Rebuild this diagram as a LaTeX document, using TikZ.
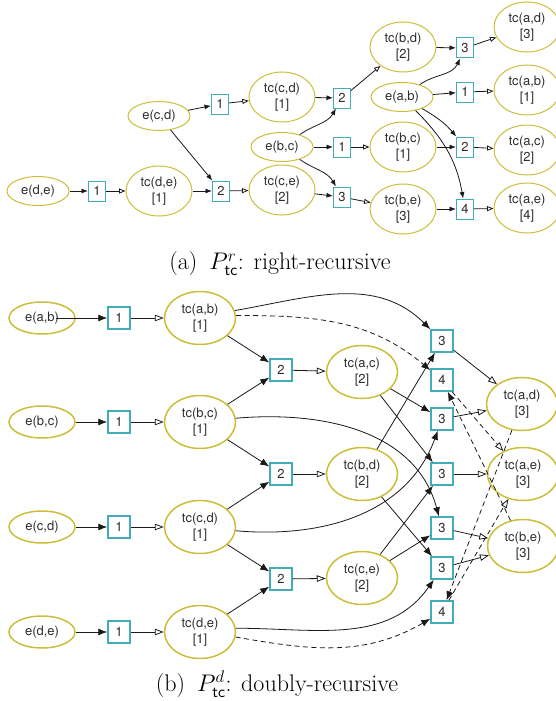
\RequirePackage{fix-cm}
\documentclass[tikz,border=0pt]{standalone}
\usepackage{fontspec}
\newfontfamily\nodefont{TeX Gyre Heros}
\usetikzlibrary{arrows.meta,shapes.geometric}
\definecolor{ellcol}{RGB}{204,190,58}
\definecolor{boxcol}{RGB}{66,172,184}
\definecolor{txtcol}{RGB}{45,45,45}
\definecolor{edgecol}{RGB}{25,25,25}
\newcommand{\nlab}[2]{#1\\{}[#2]}
\tikzset{
  nbase/.style={font=\nodefont\fontsize{13}{15.5}\selectfont, text=txtcol, align=center, inner sep=0pt},
  tEll/.style={nbase, ellipse, draw=ellcol, line width=1pt, minimum width=66pt, minimum height=50pt},
  tEe/.style={nbase, ellipse, draw=ellcol, line width=1pt, minimum width=62pt, minimum height=29pt},
  tBox/.style={nbase, rectangle, draw=boxcol, line width=1pt, minimum width=17pt, minimum height=20pt},
  bEll/.style={nbase, ellipse, draw=ellcol, line width=1.5pt, minimum width=71pt, minimum height=53pt},
  bEe/.style={nbase, ellipse, draw=ellcol, line width=1.5pt, minimum width=66pt, minimum height=32pt},
  bBox/.style={nbase, rectangle, draw=boxcol, line width=1.5pt, minimum width=22pt, minimum height=22pt},
  edge/.style={draw=edgecol, line width=0.8pt},
  fs/.style={edge, -{Latex[length=6.5pt,width=5pt]}},
  os/.style={edge, -{Triangle[open,length=6.5pt,width=5pt]}},
  fb/.style={edge, -{Latex[length=9pt,width=7pt]}},
  ob/.style={edge, -{Triangle[open,length=9pt,width=6.5pt]}},
  dsh/.style={dash pattern=on 5pt off 3.5pt},
  capS/.style={font=\fontsize{24}{28}\selectfont, inner sep=0pt}
}
\begin{document}
\begin{tikzpicture}[x=1pt,y=1pt]
\useasboundingbox (0,0) rectangle (555,-701);
% ---------------- (a) right-recursive ----------------
\node[tEe]  (tEde) at (38,-191) {e(d,e)};
\node[tBox] (tB1de) at (97,-191) {1};
\node[tEll] (tTde) at (159,-191) {\nlab{tc(d,e)}{1}};
\node[tEe]  (tEcd) at (159,-116) {e(c,d)};
\node[tBox] (tB1cd) at (220,-104) {1};
\node[tBox] (tB2ce) at (221,-191) {2};
\node[tEll] (tTcd) at (282,-97) {\nlab{tc(c,d)}{1}};
\node[tEe]  (tEbc) at (282,-147) {e(b,c)};
\node[tEll] (tTce) at (282,-190) {\nlab{tc(c,e)}{2}};
\node[tBox] (tB2bd) at (342,-98) {2};
\node[tBox] (tB1bc) at (342,-147) {1};
\node[tBox] (tB3be) at (342,-197) {3};
\node[tEll] (tTbd) at (403,-47) {\nlab{tc(b,d)}{2}};
\node[tEe]  (tEab) at (402,-97) {e(a,b)};
\node[tEll] (tTbc) at (403,-147) {\nlab{tc(b,c)}{1}};
\node[tEll] (tTbe) at (403,-209) {\nlab{tc(b,e)}{3}};
\node[tBox] (tB3ad) at (465,-48) {3};
\node[tBox] (tB1ab) at (465,-92) {1};
\node[tBox] (tB2ac) at (465,-147) {2};
\node[tBox] (tB4ae) at (465,-209) {4};
\node[tEll] (tTad) at (527,-27) {\nlab{tc(a,d)}{3}};
\node[tEll] (tTab) at (527,-90) {\nlab{tc(a,b)}{1}};
\node[tEll] (tTac) at (527,-150) {\nlab{tc(a,c)}{2}};
\node[tEll] (tTae) at (527,-208) {\nlab{tc(a,e)}{4}};

\draw[fs] (tEde) -- (tB1de);
\draw[os] (tB1de) -- (tTde);
\draw[fs] (tTde) -- (tB2ce);
\draw[fs] (tEcd) -- (tB2ce);
\draw[fs] (tEcd) -- (tB1cd);
\draw[os] (tB1cd) -- (tTcd);
\draw[os] (tB2ce) -- (tTce);
\draw[fs] (tTcd) -- (tB2bd);
\draw[fs] (tEbc) to[out=35,in=-120] (tB2bd);
\draw[os] (tB2bd) -- (tTbd);
\draw[fs] (tEbc) -- (tB1bc);
\draw[os] (tB1bc) -- (tTbc);
\draw[fs] (tTce) -- (tB3be);
\draw[fs] (tEbc) to[out=-35,in=120] (tB3be);
\draw[os] (tB3be) -- (tTbe);
\draw[fs] (tTbd) -- (tB3ad);
\draw[fs] (tEab) to[out=35,in=-115] (tB3ad);
\draw[os] (tB3ad) -- (tTad);
\draw[fs] (tEab) -- (tB1ab);
\draw[os] (tB1ab) -- (tTab);
\draw[fs] (tTbc) -- (tB2ac);
\draw[fs] (tEab) to[out=-30,in=130] (tB2ac);
\draw[os] (tB2ac) -- (tTac);
\draw[fs] (tTbe) -- (tB4ae);
\draw[fs] (tEab) to[out=-45,in=100] (tB4ae);
\draw[os] (tB4ae) -- (tTae);

\node[capS] (capA) at (280,-264) {(a)\enspace$P^{r}_{\mathsf{tc}}$: right-recursive};

% ---------------- (b) doubly-recursive ----------------
\node[bEe]  (bEab) at (42,-318) {e(a,b)};
\node[bBox] (bB1ab) at (119,-318) {1};
\node[bEll] (bTab) at (200,-318) {\nlab{tc(a,b)}{1}};
\node[bEe]  (bEbc) at (42,-422) {e(b,c)};
\node[bBox] (bB1bc) at (119,-422) {1};
\node[bEll] (bTbc) at (200,-422) {\nlab{tc(b,c)}{1}};
\node[bEe]  (bEcd) at (42,-527) {e(c,d)};
\node[bBox] (bB1cd) at (119,-527) {1};
\node[bEll] (bTcd) at (200,-527) {\nlab{tc(c,d)}{1}};
\node[bEe]  (bEde) at (42,-632) {e(d,e)};
\node[bBox] (bB1de) at (119,-632) {1};
\node[bEll] (bTde) at (200,-632) {\nlab{tc(d,e)}{1}};
\node[bBox] (bB2a) at (281,-370) {2};
\node[bBox] (bB2b) at (281,-474) {2};
\node[bBox] (bB2c) at (281,-579) {2};
\node[bEll] (bTac) at (362,-372) {\nlab{tc(a,c)}{2}};
\node[bEll] (bTbd) at (362,-474) {\nlab{tc(b,d)}{2}};
\node[bEll] (bTce) at (362,-578) {\nlab{tc(c,e)}{2}};
\node[bBox] (bB3a) at (442,-341) {3};
\node[bBox] (bB4a) at (442,-380) {4};
\node[bBox] (bB3b) at (442,-419) {3};
\node[bBox] (bB3c) at (442,-474) {3};
\node[bBox] (bB3d) at (442,-528) {3};
\node[bBox] (bB3e) at (442,-568) {3};
\node[bBox] (bB4b) at (442,-612) {4};
\node[bEll] (bTad) at (522,-404) {\nlab{tc(a,d)}{3}};
\node[bEll] (bTae) at (523,-474) {\nlab{tc(a,e)}{3}};
\node[bEll] (bTbe) at (523,-546) {\nlab{tc(b,e)}{3}};

\draw[fb] ([xshift=14pt]bEab.center) -- (bB1ab);
\draw[fb] (bEbc) -- (bB1bc);
\draw[fb] (bEcd) -- (bB1cd);
\draw[fb] (bEde) -- (bB1de);
\draw[ob] (bB1ab) -- (bTab);
\draw[ob] (bB1bc) -- (bTbc);
\draw[ob] (bB1cd) -- (bTcd);
\draw[ob] (bB1de) -- (bTde);
\draw[fb] (bTab) -- (bB2a);
\draw[fb] (bTbc) -- (bB2a);
\draw[fb] (bTbc) -- (bB2b);
\draw[fb] (bTcd) -- (bB2b);
\draw[fb] (bTcd) -- (bB2c);
\draw[fb] (bTde) -- (bB2c);
\draw[ob] (bB2a) -- (bTac);
\draw[ob] (bB2b) -- (bTbd);
\draw[ob] (bB2c) -- (bTce);
% curves from the first column
\draw[fb] (bTab.12) to[out=10,in=135] (bB3a);
\draw[fb,dsh] (bTab.4) to[out=0,in=140] (bB4a);
\draw[fb] (bTbc.6) to[out=5,in=105] (bB3d);
\draw[fb] (bTcd.-6) to[out=-5,in=-110] (bB3b);
\draw[fb] (bTde.6) to[out=0,in=-125] (bB3e);
\draw[fb,dsh] (bTde.-8) to[out=-10,in=-150] (bB4b);
% straight joins
\draw[fb] (bTac) -- (bB3b);
\draw[fb] (bTac) -- (bB3c);
\draw[fb] (bTbd) -- (bB3a);
\draw[fb] (bTbd) -- (bB3e);
\draw[fb] (bTce) -- (bB3c);
\draw[fb] (bTce) -- (bB3d);
% outputs
\draw[ob] (bB3a) -- (bTad);
\draw[ob] (bB3b) -- (bTad);
\draw[ob] (bB3c) -- (bTae);
\draw[ob] (bB3d) -- (bTbe);
\draw[ob] (bB3e) -- (bTbe);
% dashed
\draw[fb,dsh] (bTbe) -- (bB4a);
\draw[ob,dsh] (bB4a) -- (bTae);
\draw[fb,dsh] (bTad) -- (bB4b);
\draw[ob,dsh] (bB4b) -- (bTae);

\node[capS] (capB) at (277,-684) {(b)\enspace$P^{d}_{\mathsf{tc}}$: doubly-recursive};
\end{tikzpicture}
\end{document}
